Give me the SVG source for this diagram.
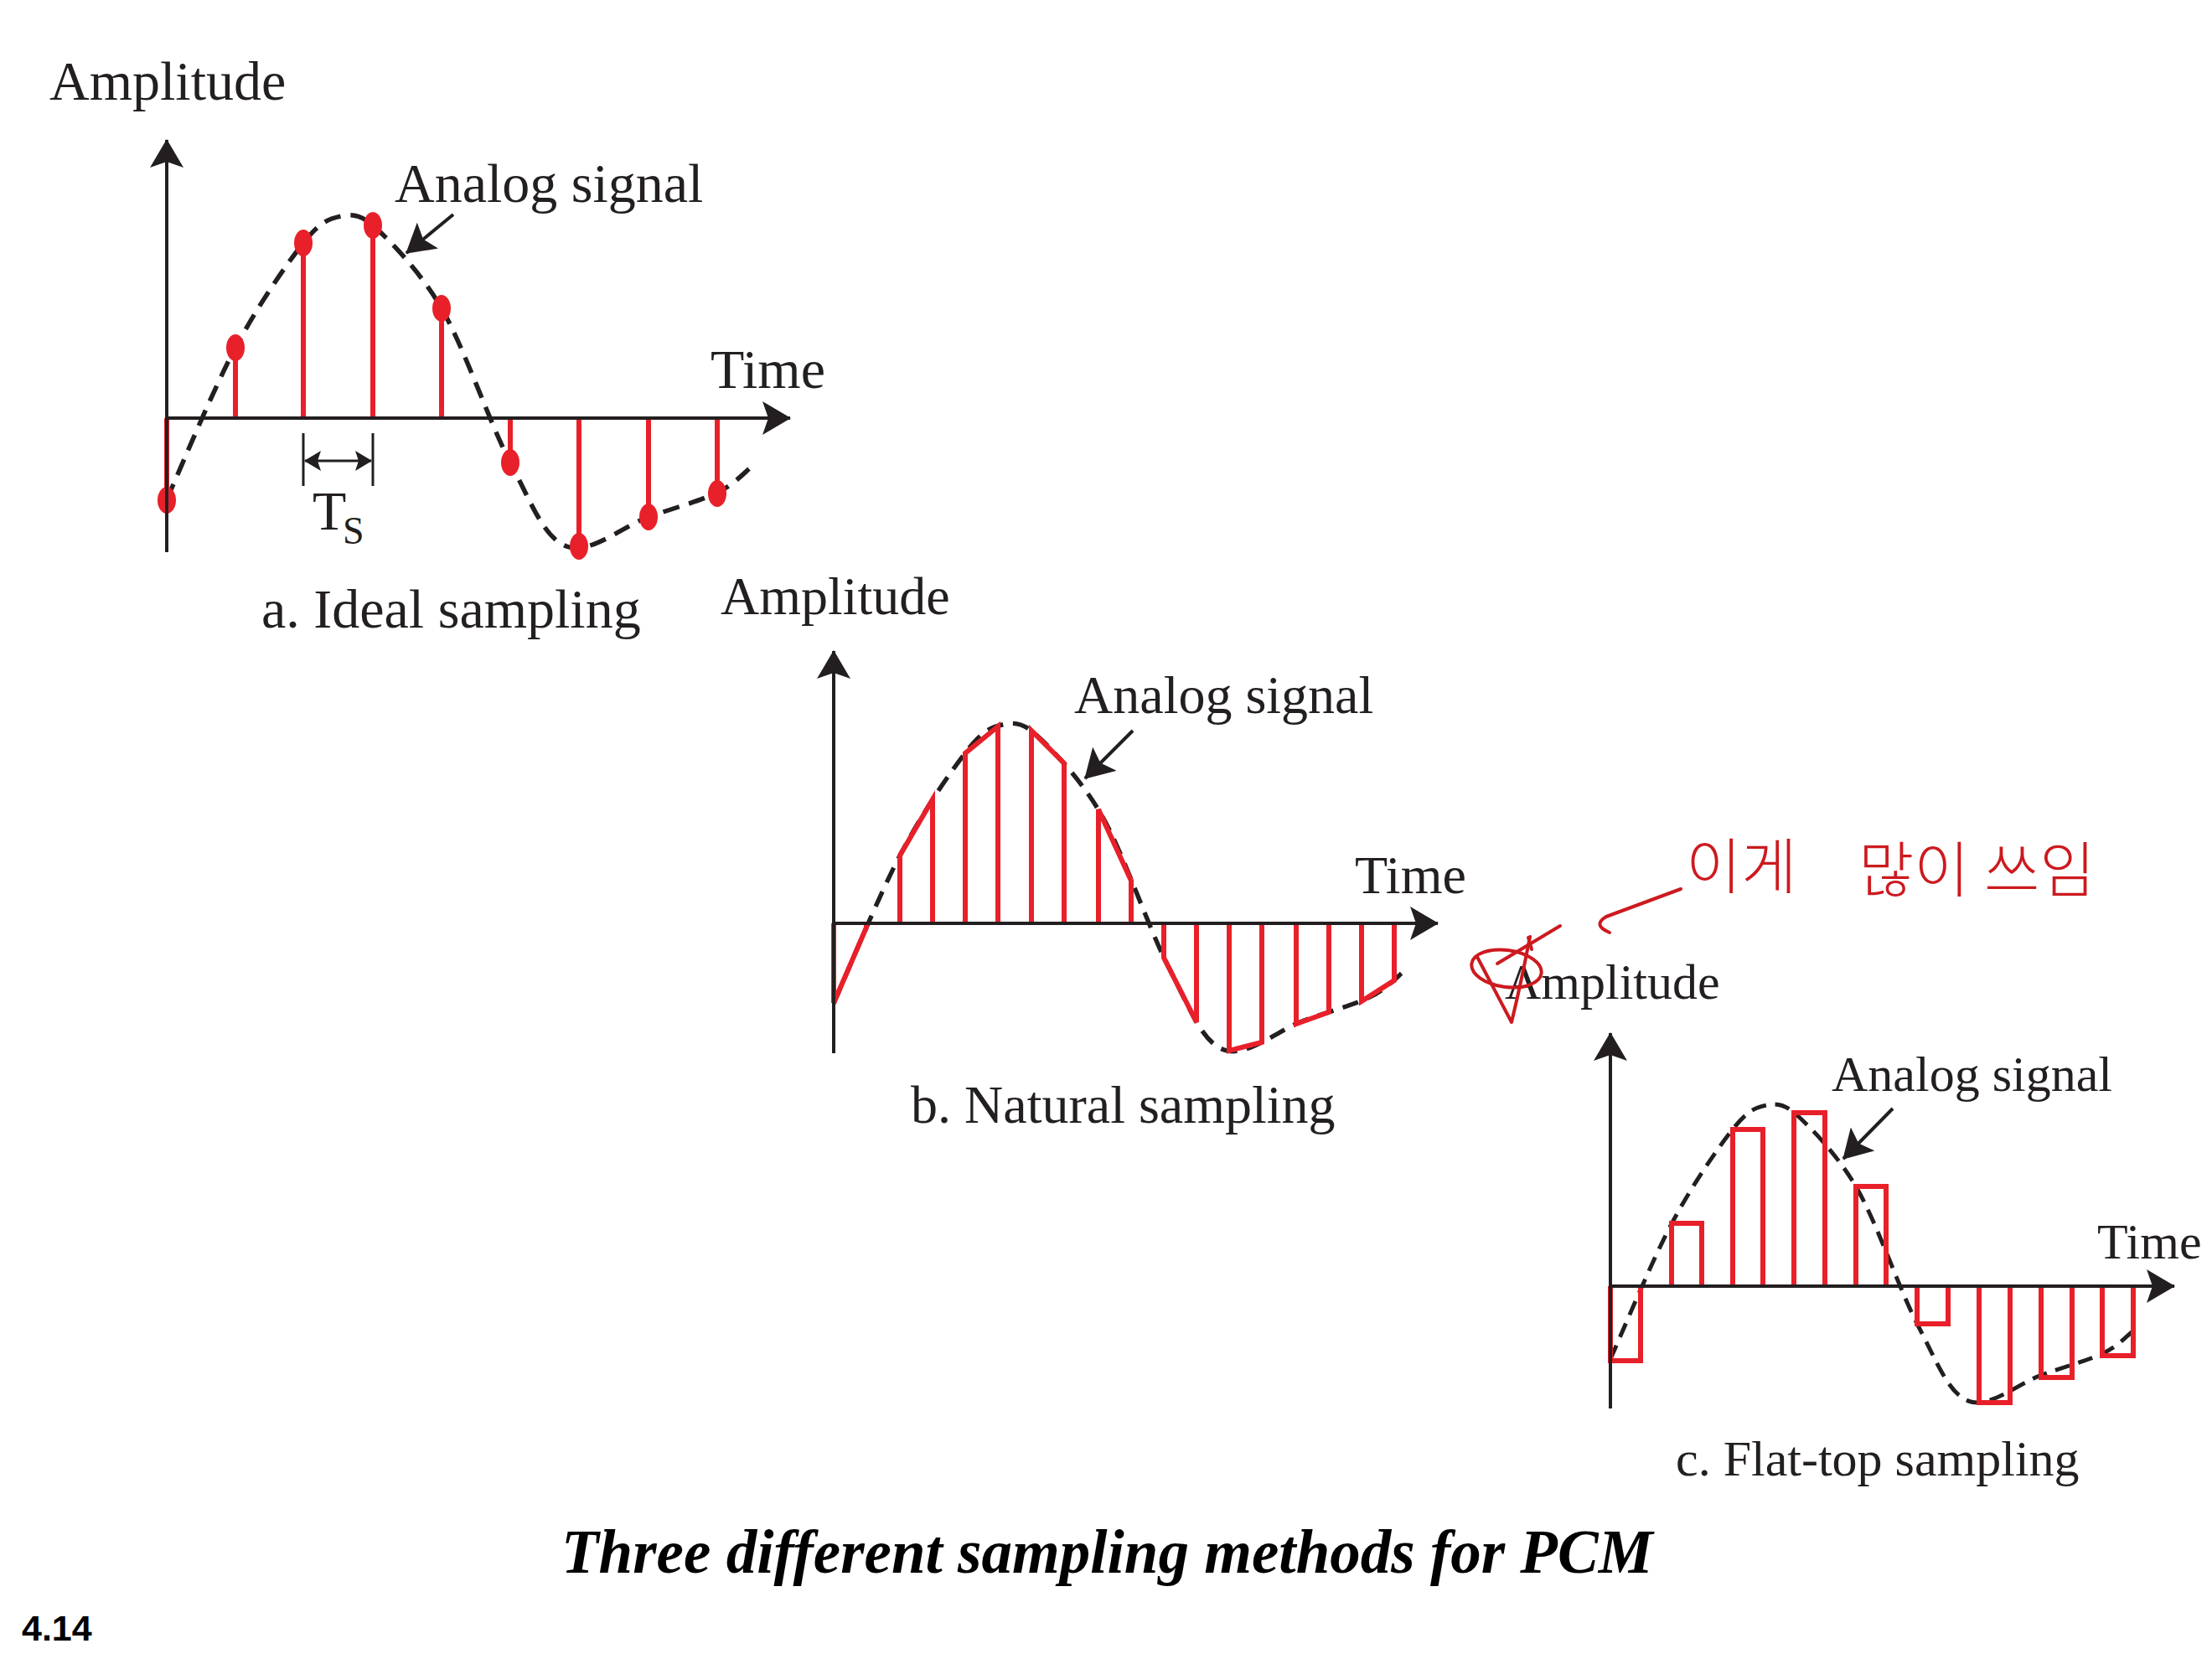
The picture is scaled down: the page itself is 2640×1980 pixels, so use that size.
<svg xmlns="http://www.w3.org/2000/svg" xmlns:xlink="http://www.w3.org/1999/xlink" width="2640" height="1980" viewBox="0 0 2640 1980">
<style>
 .ax{stroke:#231f20;stroke-width:4;fill:none}
 .sig{fill:none;stroke:#231f20;stroke-width:5.5;stroke-dasharray:20 12}
 .smp{stroke:#e8202a;stroke-width:6;fill:none;stroke-linejoin:miter}
 .dot{fill:#e8202a}
 .lbl{font-family:"Liberation Serif","Times New Roman",serif;fill:#231f20}
 .hw{fill:none;stroke:#cc1a1f;stroke-width:4;stroke-linecap:round;stroke-linejoin:round}
 .hwt{font-family:"Noto Sans CJK KR",sans-serif;font-weight:300;fill:#cc1a1f;font-size:72px}
</style>
<defs>
 <marker id="axh" viewBox="0 0 34 40" refX="33" refY="20" markerWidth="34" markerHeight="40" markerUnits="userSpaceOnUse" orient="auto">
  <path d="M0,0 L34,20 L0,40 L7,20 z" fill="#231f20"/>
 </marker>
 <marker id="tsh" viewBox="0 0 20 24" refX="19" refY="12" markerWidth="20" markerHeight="24" markerUnits="userSpaceOnUse" orient="auto-start-reverse">
  <path d="M0,0 L20,12 L0,24 L4,12 z" fill="#231f20"/>
 </marker>
 <path id="sigpath" d="M0,97 C13.7,66.8 54.8,-33 82,-84 C109.2,-135 142.3,-182.8 163,-209 C183.7,-235.2 194,-238 208,-241 C222,-244 232,-242 246,-230 C260,-218 300.7,-178.2 328,-131 C355.3,-83.8 385.2,5.7 410,53 C434.8,100.3 449.5,142.2 477,153 C504.5,163.8 545,128.7 575,118 C605,107.3 636.7,98.8 657,89 C677.3,79.2 690.3,64 697,59"/>
</defs>
<rect width="2640" height="1980" fill="#ffffff"/>

<g id="panel-a">
 <use xlink:href="#sigpath" class="sig" transform="translate(199,499)"/>
 <g id="a-samples">
  <path class="smp" d="M199,499 V597 M281,499 V415 M362,499 V290 M445,499 V269 M527,499 V368 M609,499 V552 M691,499 V652 M774,499 V617 M856,499 V589"/>
  <ellipse class="dot" cx="199" cy="597" rx="11" ry="16"/>
  <ellipse class="dot" cx="281" cy="415" rx="11" ry="16"/>
  <ellipse class="dot" cx="362" cy="290" rx="11" ry="16"/>
  <ellipse class="dot" cx="445" cy="269" rx="11" ry="16"/>
  <ellipse class="dot" cx="527" cy="368" rx="11" ry="16"/>
  <ellipse class="dot" cx="609" cy="552" rx="11" ry="16"/>
  <ellipse class="dot" cx="691" cy="652" rx="11" ry="16"/>
  <ellipse class="dot" cx="774" cy="617" rx="11" ry="16"/>
  <ellipse class="dot" cx="856" cy="589" rx="11" ry="16"/>
 </g>
 <path class="ax" d="M199,659 V167" marker-end="url(#axh)"/>
 <path class="ax" d="M199,499 H943" marker-end="url(#axh)"/>
 <path class="ax" style="stroke-width:3" d="M362,517 V580 M445,517 V580"/>
 <path class="ax" style="stroke-width:3" d="M364,550 H443" marker-start="url(#tsh)" marker-end="url(#tsh)"/>
 <text class="lbl" x="59" y="119" font-size="66">Amplitude</text>
 <text class="lbl" x="471" y="241" font-size="66">Analog signal</text>
 <text class="lbl" x="848" y="463" font-size="66">Time</text>
 <text class="lbl" x="373" y="632" font-size="66">T<tspan x="409" y="649" font-size="46">S</tspan></text>
 <text class="lbl" x="312" y="749" font-size="66">a. Ideal sampling</text>
</g>

<g id="panel-b">
 <use xlink:href="#sigpath" class="sig" transform="translate(995,1102) scale(0.975,0.985)"/>
 <path class="smp" d="M995,1102 V1197 L1034,1107 V1102 M1074,1102 V1021 L1113,954 V1102 M1152,1102 V899 L1191,867 V1102 M1231,1102 V872 L1270,911 V1102 M1311,1102 V966 L1350,1051 V1102 M1389,1102 V1143 L1428,1220 V1102 M1467,1102 V1254 L1506,1244 V1102 M1547,1102 V1222 L1586,1208 V1102 M1625,1102 V1195 L1664,1170 V1102"/>
 <path class="ax" d="M995,1257 V777" marker-end="url(#axh)"/>
 <path class="ax" d="M995,1102 H1716" marker-end="url(#axh)"/>
 <text class="lbl" x="860" y="733" font-size="64">Amplitude</text>
 <text class="lbl" x="1282" y="851" font-size="64">Analog signal</text>
 <text class="lbl" x="1617" y="1066" font-size="64">Time</text>
 <text class="lbl" x="1087" y="1340" font-size="64">b. Natural sampling</text>
</g>

<g id="panel-c">
 <use xlink:href="#sigpath" class="sig" transform="translate(1922,1535) scale(0.896)"/>
 <path class="smp" d="M1922,1535 V1624 H1958 V1535 M1995,1535 V1460 H2031 V1535 M2068,1535 V1348 H2104 V1535 M2141,1535 V1328 H2178 V1535 M2215,1535 V1416 H2251 V1535 M2288,1535 V1580 H2325 V1535 M2362,1535 V1674 H2399 V1535 M2436,1535 V1644 H2473 V1535 M2509,1535 V1618 H2546 V1535"/>
 <path class="ax" d="M1922,1681 V1233" marker-end="url(#axh)"/>
 <path class="ax" d="M1922,1535 H2595" marker-end="url(#axh)"/>
 <text class="lbl" x="1796" y="1192" font-size="60">Amplitude</text>
 <text class="lbl" x="2186" y="1302" font-size="60">Analog signal</text>
 <text class="lbl" x="2503" y="1502" font-size="60">Time</text>
 <text class="lbl" x="2000" y="1761" font-size="60">c. Flat-top sampling</text>
</g>

<g id="connectors">
 <path class="ax" d="M541,256 L485,302" marker-end="url(#axh)"/>
 <path class="ax" d="M1352,872 L1295,929" marker-end="url(#axh)"/>
 <path class="ax" d="M2259,1323 L2200,1383" marker-end="url(#axh)"/>
</g>

<g id="annotation">
 <path class="hw" d="M1763,1142 L1804,1220 Q1815,1175 1826,1118"/>
 <ellipse class="hw" cx="1798" cy="1156" rx="42" ry="22" transform="rotate(8 1798 1156)"/>
 <path class="hw" d="M1787,1150 L1862,1105 M1824,1119 L1828,1133"/>
 <path class="hw" d="M1921,1113 Q1900,1104 1917,1094 Q1960,1078 2006,1061"/>
 <text class="hwt" x="2012" y="1060">이게</text>
 <text class="hwt" x="2218" y="1064">많이</text>
 <text class="hwt" x="2368" y="1064">쓰임</text>
</g>

<text id="title" x="670" y="1877" font-family="'Liberation Serif','Times New Roman',serif" font-weight="bold" font-style="italic" font-size="73" fill="#000">Three different sampling methods for PCM</text>
<text id="page" x="26" y="1958" font-family="'Liberation Sans',Arial,sans-serif" font-weight="bold" font-size="43" fill="#000">4.14</text>
</svg>
